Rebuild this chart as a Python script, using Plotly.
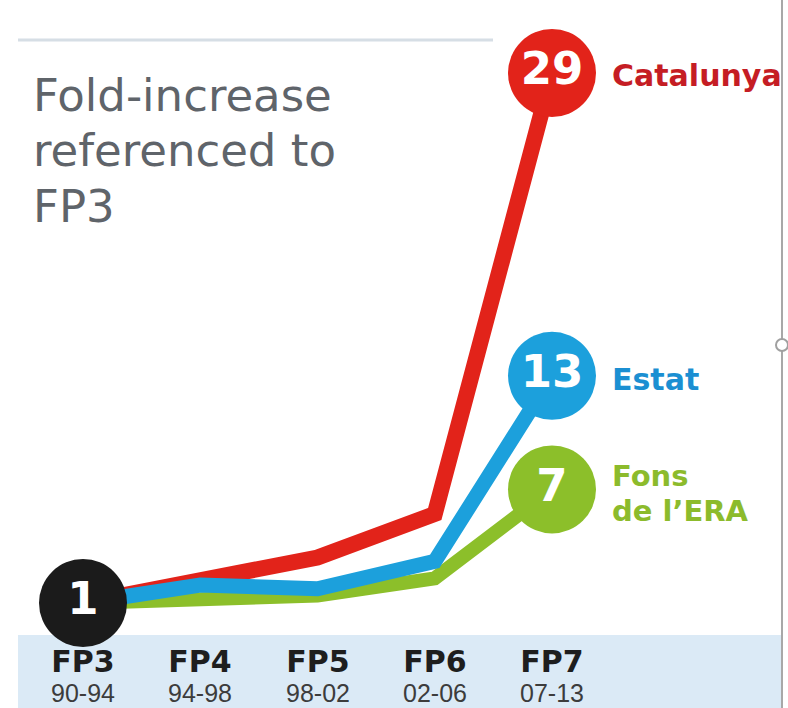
import plotly.graph_objects as go

# Framework programmes and their periods
programmes = ["FP3", "FP4", "FP5", "FP6", "FP7"]
periods = ["90-94", "94-98", "98-02", "02-06", "07-13"]

# Fold-increase of funding, referenced to FP3
catalunya = [1, 2.2, 3.4, 5.7, 29]
estat = [1, 1.95, 1.75, 3.2, 13]
fons_era = [1, 1.26, 1.4, 2.3, 7]

RED = "#e2231a"
BLUE = "#1ca0dc"
GREEN = "#8cbf2a"
RED_TXT = "#c51d24"
BLUE_TXT = "#1b8fd2"
GREEN_TXT = "#8cbb2c"

W, H = 788, 708
xs = list(range(len(programmes)))

fig = go.Figure()

# lines (blue drawn last so it sits on top)
for vals, col, w in [(fons_era, GREEN, 14), (catalunya, RED, 16), (estat, BLUE, 15)]:
    fig.add_trace(go.Scatter(
        x=xs, y=vals, mode="lines",
        line=dict(color=col, width=w),
        hoverinfo="skip", showlegend=False,
    ))


def fmt(v):
    return f"<b>{v:g}</b>"


# end-point bubbles with their values
for vals, col in [(fons_era, GREEN), (estat, BLUE), (catalunya, RED)]:
    fig.add_trace(go.Scatter(
        x=[xs[-1]], y=[vals[-1]], mode="markers+text",
        marker=dict(size=88, color=col, line=dict(width=0)),
        text=[fmt(vals[-1])], textposition="middle center",
        textfont=dict(family="DejaVu Sans", size=45, color="white"),
        hoverinfo="skip", showlegend=False,
    ))

# starting bubble (FP3 = 1)
fig.add_trace(go.Scatter(
    x=[xs[0]], y=[catalunya[0]], mode="markers+text",
    marker=dict(size=88, color="#1b1b1b", line=dict(width=0)),
    text=[fmt(catalunya[0])], textposition="middle center",
    textfont=dict(family="DejaVu Sans", size=45, color="white"),
    hoverinfo="skip", showlegend=False,
))

annotations = []

# series labels to the right of the end bubbles
annotations.append(dict(x=xs[-1], y=catalunya[-1], xref="x", yref="y",
                        text="<b>Catalunya</b>", showarrow=False, xanchor="left",
                        yanchor="middle", xshift=58, yshift=-2,
                        font=dict(family="DejaVu Sans", size=30, color=RED_TXT)))
annotations.append(dict(x=xs[-1], y=estat[-1], xref="x", yref="y",
                        text="<b>Estat</b>", showarrow=False, xanchor="left",
                        yanchor="middle", xshift=58, yshift=-4,
                        font=dict(family="DejaVu Sans", size=30, color=BLUE_TXT)))
for line_txt, dy in [("Fons", 13), ("de l’ERA", -22)]:
    annotations.append(dict(x=xs[-1], y=fons_era[-1], xref="x", yref="y",
                            text=f"<b>{line_txt}</b>", showarrow=False, xanchor="left",
                            yanchor="middle", xshift=58, yshift=dy,
                            font=dict(family="DejaVu Sans", size=29, color=GREEN_TXT)))

# programme / period labels in the bottom band (one two-line label each)
for i, (p, per) in enumerate(zip(programmes, periods)):
    label = (f"<span style='font-family:DejaVu Sans;font-size:30px;color:#1e1e1e'><b>{p}</b></span>"
             f"<br><span style='font-family:Liberation Sans;font-size:25px;color:#3c3c3c'>{per}</span>")
    annotations.append(dict(x=i, y=1 - 675 / H, xref="x", yref="paper",
                            text=label, showarrow=False, borderpad=0,
                            xanchor="center", yanchor="middle",
                            font=dict(family="Liberation Sans", size=23, color="#3c3c3c")))

# heading
for k, line_txt in enumerate(["Fold-increase", "referenced to", "FP3"]):
    annotations.append(dict(x=31 / W, y=1 - (96 + 55 * k) / H, xref="paper", yref="paper",
                            text=line_txt, showarrow=False,
                            xanchor="left", yanchor="middle",
                            font=dict(family="DejaVu Sans", size=45, color="#5f646a")))

shapes = [
    # bottom band
    dict(type="rect", xref="paper", yref="paper",
         x0=18 / W, x1=783 / W, y0=0, y1=1 - 635 / H,
         fillcolor="#dbeaf6", line=dict(width=0), layer="below"),
    # top rule
    dict(type="line", xref="paper", yref="paper",
         x0=18 / W, x1=493 / W, y0=1 - 40 / H, y1=1 - 40 / H,
         line=dict(color="#d6dee5", width=3), layer="below"),
    # right frame edge
    dict(type="line", xref="paper", yref="paper",
         x0=782 / W, x1=782 / W, y0=0, y1=1,
         line=dict(color="#a8a8a8", width=2)),
    dict(type="circle", xref="paper", yref="paper",
         x0=776 / W, x1=788 / W, y0=1 - 351 / H, y1=1 - 339 / H,
         fillcolor="white", line=dict(color="#a0a0a0", width=2)),
]

# axis ranges so FP3..FP7 fall at 83..552 px and value 1 -> 603 px, 29 -> 73 px
px_per_x = (552 - 83) / 4
px_per_y = (603 - 73) / 28
x_range = [-83 / px_per_x, (W - 83) / px_per_x]
y_range = [1 - (H - 603) / px_per_y, 1 + 603 / px_per_y]

fig.update_layout(
    width=W, height=H,
    margin=dict(l=0, r=0, t=0, b=0, pad=0),
    paper_bgcolor="white", plot_bgcolor="white",
    xaxis=dict(range=x_range, visible=False, fixedrange=True),
    yaxis=dict(range=y_range, visible=False, fixedrange=True),
    annotations=annotations,
    shapes=shapes,
    showlegend=False,
)

fig.write_html("out.html")
